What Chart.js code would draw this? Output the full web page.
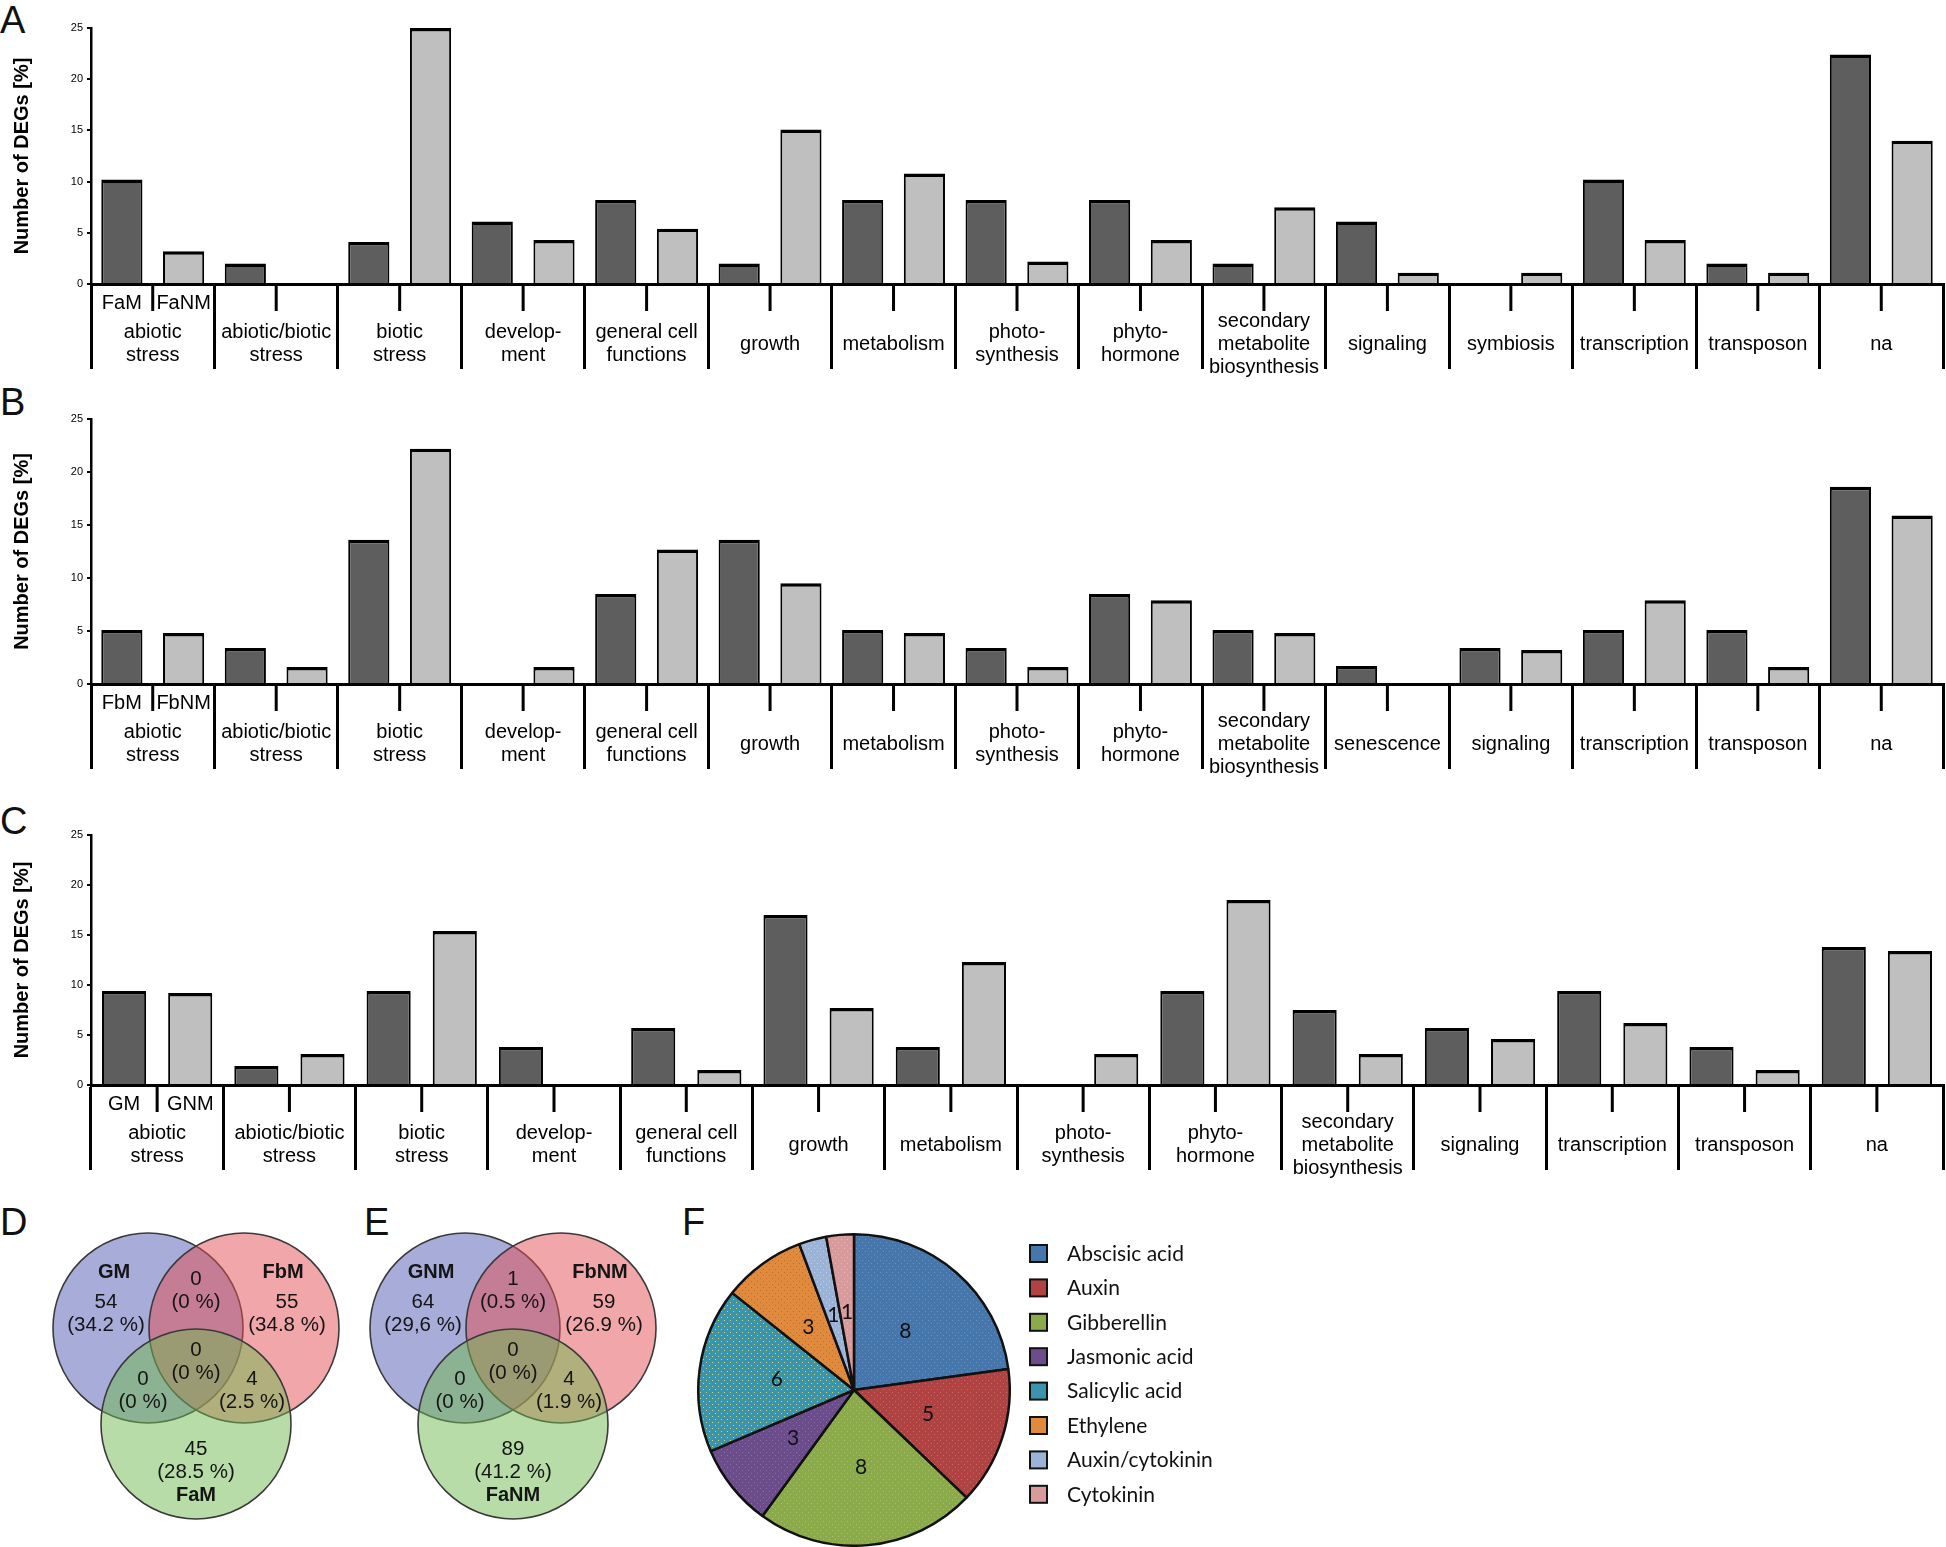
<!DOCTYPE html>
<html><head><meta charset="utf-8">
<script src="https://cdn.jsdelivr.net/npm/chart.js@4/dist/chart.umd.min.js"></script>
<style>
html,body{margin:0;padding:0;background:#fff;}
body{width:1946px;height:1547px;position:relative;overflow:hidden;}
canvas{position:absolute;}
.letter{position:absolute;font-family:'Liberation Sans',Arial,sans-serif;font-size:38px;line-height:38px;color:#111;}
</style></head><body>
<div class="letter" style="left:0;top:1px">A</div>
<div class="letter" style="left:0;top:383px">B</div>
<div class="letter" style="left:0;top:802px">C</div>
<div class="letter" style="left:0;top:1203px">D</div>
<div class="letter" style="left:364px;top:1203px">E</div>
<div class="letter" style="left:682px;top:1203px">F</div>
<canvas id="cA" width="1946" height="382" style="left:0;top:0;width:1946px;height:382px"></canvas>
<canvas id="cB" width="1946" height="418" style="left:0;top:382px;width:1946px;height:418px"></canvas>
<canvas id="cC" width="1946" height="390" style="left:0;top:800px;width:1946px;height:390px"></canvas>
<canvas id="cV" width="660" height="357" style="left:0;top:1190px;width:660px;height:357px"></canvas>
<canvas id="cP" width="640" height="357" style="left:660px;top:1190px;width:640px;height:357px"></canvas>
<script>
// ---------- DATA ----------
const catsA = [["abiotic","stress"],["abiotic/biotic","stress"],["biotic","stress"],["develop-","ment"],["general cell","functions"],["growth"],["metabolism"],["photo-","synthesis"],["phyto-","hormone"],["secondary","metabolite","biosynthesis"],["signaling"],["symbiosis"],["transcription"],["transposon"],["na"]];
const seriesA = ["FaM","FaNM"];
const FaM  = [10.2, 2.0, 4.1, 6.1, 8.2, 2.0, 8.2, 8.2, 8.2, 2.0, 6.1, 0, 10.2, 2.0, 22.4];
const FaNM = [3.2, 0, 25.0, 4.3, 5.4, 15.1, 10.8, 2.2, 4.3, 7.5, 1.1, 1.1, 4.3, 1.1, 14.0];

const catsB = [["abiotic","stress"],["abiotic/biotic","stress"],["biotic","stress"],["develop-","ment"],["general cell","functions"],["growth"],["metabolism"],["photo-","synthesis"],["phyto-","hormone"],["secondary","metabolite","biosynthesis"],["senescence"],["signaling"],["transcription"],["transposon"],["na"]];
const seriesB = ["FbM","FbNM"];
const FbM  = [5.1, 3.4, 13.6, 0, 8.5, 13.6, 5.1, 3.4, 8.5, 5.1, 1.7, 3.4, 5.1, 5.1, 18.6];
const FbNM = [4.8, 1.6, 22.2, 1.6, 12.7, 9.5, 4.8, 1.6, 7.9, 4.8, 0, 3.2, 7.9, 1.6, 15.9];

const catsC = [["abiotic","stress"],["abiotic/biotic","stress"],["biotic","stress"],["develop-","ment"],["general cell","functions"],["growth"],["metabolism"],["photo-","synthesis"],["phyto-","hormone"],["secondary","metabolite","biosynthesis"],["signaling"],["transcription"],["transposon"],["na"]];
const seriesC = ["GM","GNM"];
const GM  = [9.4, 1.9, 9.4, 3.8, 5.7, 17.0, 3.8, 0, 9.4, 7.5, 5.7, 9.4, 3.8, 13.8];
const GNM = [9.2, 3.1, 15.4, 0, 1.5, 7.7, 12.3, 3.1, 18.5, 3.1, 4.6, 6.2, 1.5, 13.4];

const yTicks = [0, 5, 10, 15, 20, 25];
const yTitle = "Number of DEGs [%]";

// Venn: regions [only1, only2, only3, 1&2, 1&3, 2&3, 1&2&3]
const vennDSets = ["GM","FbM","FaM"];
const vennDCounts = [54, 55, 45, 0, 0, 4, 0];
const vennDPct = ["34.2 %","34.8 %","28.5 %","0 %","0 %","2.5 %","0 %"];
const vennESets = ["GNM","FbNM","FaNM"];
const vennECounts = [64, 59, 89, 1, 0, 4, 0];
const vennEPct = ["29,6 %","26.9 %","41.2 %","0.5 %","0 %","1.9 %","0 %"];

const pieLabels = ["Abscisic acid","Auxin","Gibberellin","Jasmonic acid","Salicylic acid","Ethylene","Auxin/cytokinin","Cytokinin"];
const pieValues = [8, 5, 8, 3, 6, 3, 1, 1];

// ---------- STYLE ----------
const SANS = "'Liberation Sans',Arial,sans-serif";
const CAL = "Lato,'Open Sans',sans-serif";
const DARK = '#5e5e5e', LIGHT = '#bfbfbf';
const pieColors = ['#4677ac','#b04242','#8bab4b','#6c4d8b','#3b94ad','#e08a3e','#9bb3d7','#d99a9b'];
const pieDots   = ['#6f93bf','#c76a6a','#a9c26e','#8a70a6','#c9d87a','#c06a28','#c1d1ea','#e9b9ba'];

function makePattern(base, dot) {
  const c = document.createElement('canvas'); c.width = 6; c.height = 6;
  const g = c.getContext('2d');
  g.fillStyle = base; g.fillRect(0, 0, 6, 6);
  g.fillStyle = dot; g.fillRect(1, 1, 1, 1); g.fillRect(4, 4, 1, 1);
  const p = g.createPattern(c, 'repeat');
  return p;
}

const catLabelPlugin = {
  id: 'catLabels',
  afterDraw(chart) {
    const ctx = chart.ctx, xs = chart.scales.x, base = chart.chartArea.bottom;
    ctx.save();
    ctx.strokeStyle = '#000'; ctx.lineWidth = 3;
    ctx.fillStyle = '#000';
    ctx.font = "20px " + SANS;
    ctx.textAlign = 'center'; ctx.textBaseline = 'middle';
    chart.data.labels.forEach((lab, i) => {
      const cx = xs.getPixelForValue(i);
      ctx.beginPath(); ctx.moveTo(cx, base); ctx.lineTo(cx, base + 27); ctx.stroke();
      const lines = Array.isArray(lab) ? lab : [lab];
      lines.forEach((t, j) => ctx.fillText(t, cx, base + 60 + (j - (lines.length - 1) / 2) * 23));
    });
    chart.data.datasets.forEach((ds, k) => {
      const el = chart.getDatasetMeta(k).data[0];
      ctx.fillText(ds.label, el.x, base + 19);
    });
    ctx.restore();
  }
};

function barChart(id, labels, s1, s2, names, padTop, baseRel) {
  const cv = document.getElementById(id);
  const H = cv.height;
  return new Chart(cv, {
    type: 'bar',
    data: {
      labels: labels,
      datasets: [
        { label: names[0], data: s1, backgroundColor: DARK, borderColor: '#000',
          borderWidth: {top: 3.5, left: 2, right: 2, bottom: 0}, borderSkipped: 'bottom' },
        { label: names[1], data: s2, backgroundColor: LIGHT, borderColor: '#000',
          borderWidth: {top: 3.5, left: 2, right: 2, bottom: 0}, borderSkipped: 'bottom' }
      ]
    },
    options: {
      responsive: false, animation: false, devicePixelRatio: 1, events: [],
      layout: {padding: {top: padTop, right: 3, left: 0, bottom: 0}},
      datasets: {bar: {categoryPercentage: 1.0, barPercentage: 0.667}},
      plugins: {legend: {display: false}, tooltip: {enabled: false}},
      scales: {
        x: {
          offset: true,
          grid: {offset: true, drawOnChartArea: false, drawTicks: true, tickLength: 85, lineWidth: 3, color: '#000'},
          border: {display: true, color: '#000', width: 3},
          ticks: {display: false},
          afterFit(s) { s.height = H - baseRel; }
        },
        y: {
          min: 0, max: 25,
          afterBuildTicks(s) { s.ticks = yTicks.map(v => ({value: v})); },
          ticks: {font: {family: SANS, size: 11}, color: '#000', padding: 4},
          grid: {drawOnChartArea: false, tickLength: 4, color: '#000', lineWidth: 2},
          border: {display: true, color: '#000', width: 2.5},
          title: {display: true, text: yTitle, color: '#000',
                  font: {family: SANS, weight: 'bold', size: 20}, padding: {top: 10, bottom: 0}},
          afterFit(s) { s.width = 91; }
        }
      }
    },
    plugins: [catLabelPlugin]
  });
}

barChart('cA', catsA, FaM, FaNM, seriesA, 28, 284);
barChart('cB', catsB, FbM, FbNM, seriesB, 37, 302);
barChart('cC', catsC, GM, GNM, seriesC, 35, 285);

// ---------- VENN ----------
const vennCentroids = [[196, 170], [513, 170]];
const circleOffsets = [[-48, -32], [48, -32], [0, 64]];
const VR = 95;
const regionPos = [[-90, -58], [91, -58], [0, 89], [0, -81], [-53, 19], [56, 19], [0, -10]];
const namePos = [[-82, -88], [87, -88], [0, 135]];
const vennFill = ['rgba(81,89,177,0.5)', 'rgba(227,79,85,0.5)', 'rgba(113,185,81,0.5)'];

const vennPlugin = {
  id: 'venn',
  beforeDatasetsDraw(chart) {
    const ctx = chart.ctx, xs = chart.scales.x, ys = chart.scales.y;
    const rad = xs.getPixelForValue(VR) - xs.getPixelForValue(0);
    ctx.save();
    [0, 1, 2].forEach(k => {
      vennCentroids.forEach(c => {
        const px = xs.getPixelForValue(c[0] + circleOffsets[k][0]);
        const py = ys.getPixelForValue(c[1] + circleOffsets[k][1]);
        ctx.beginPath(); ctx.arc(px, py, rad, 0, Math.PI * 2);
        ctx.fillStyle = vennFill[k]; ctx.fill();
        ctx.strokeStyle = '#3a3a3a'; ctx.lineWidth = 1.6; ctx.stroke();
      });
    });
    ctx.restore();
  },
  afterDatasetsDraw(chart) {
    const ctx = chart.ctx, xs = chart.scales.x, ys = chart.scales.y;
    const sets = [[vennDSets, vennDCounts, vennDPct], [vennESets, vennECounts, vennEPct]];
    ctx.save();
    ctx.fillStyle = '#151515'; ctx.textAlign = 'center'; ctx.textBaseline = 'middle';
    sets.forEach(([names, counts, pcts], v) => {
      const [cx, cy] = vennCentroids[v];
      ctx.font = "bold 20px " + SANS;
      names.forEach((n, i) => ctx.fillText(n, xs.getPixelForValue(cx + namePos[i][0]), ys.getPixelForValue(cy + namePos[i][1])));
      ctx.font = "20.5px " + SANS;
      counts.forEach((c, i) => {
        const px = xs.getPixelForValue(cx + regionPos[i][0]);
        ctx.fillText(String(c), px, ys.getPixelForValue(cy + regionPos[i][1]));
        ctx.fillText('(' + pcts[i] + ')', px, ys.getPixelForValue(cy + regionPos[i][1] + 23));
      });
    });
    ctx.restore();
  }
};

new Chart(document.getElementById('cV'), {
  type: 'scatter',
  data: {datasets: []},
  options: {
    responsive: false, animation: false, devicePixelRatio: 1, events: [],
    layout: {padding: 0},
    plugins: {legend: {display: false}, tooltip: {enabled: false}},
    scales: {
      x: {type: 'linear', min: 0, max: 660, display: false},
      y: {type: 'linear', min: 0, max: 357, reverse: true, display: false}
    }
  },
  plugins: [vennPlugin]
});

// ---------- PIE ----------
const pieLabelPlugin = {
  id: 'pieLabels',
  afterDatasetsDraw(chart) {
    const ctx = chart.ctx;
    const meta = chart.getDatasetMeta(0);
    ctx.save();
    ctx.fillStyle = '#111'; ctx.textAlign = 'center'; ctx.textBaseline = 'middle';
    ctx.font = "21px " + CAL;
    meta.data.forEach((arc, i) => {
      const p = arc.tooltipPosition();
      ctx.fillText(String(chart.data.datasets[0].data[i]), p.x, p.y);
    });
    // legend
    ctx.textAlign = 'left';
    ctx.font = "21px " + CAL;
    chart.data.labels.forEach((lab, i) => {
      const y = 64 + i * 34.4;
      ctx.fillStyle = pieColors[i];
      ctx.fillRect(370, y - 9, 17, 17);
      ctx.strokeStyle = '#111'; ctx.lineWidth = 2;
      ctx.strokeRect(370, y - 9, 17, 17);
      ctx.fillStyle = '#111';
      ctx.fillText(lab, 407, y);
    });
    ctx.restore();
  }
};

new Chart(document.getElementById('cP'), {
  type: 'pie',
  data: {labels: pieLabels, datasets: [{data: pieValues,
    backgroundColor: pieColors.map((c, i) => makePattern(c, pieDots[i])),
    borderColor: '#111', borderWidth: 2.5}]},
  options: {
    responsive: false, animation: false, devicePixelRatio: 1, events: [],
    layout: {padding: {left: 37, right: 289, top: 43, bottom: 0}},
    plugins: {legend: {display: false}, tooltip: {enabled: false}}
  },
  plugins: [pieLabelPlugin]
});
</script>
</body></html>
